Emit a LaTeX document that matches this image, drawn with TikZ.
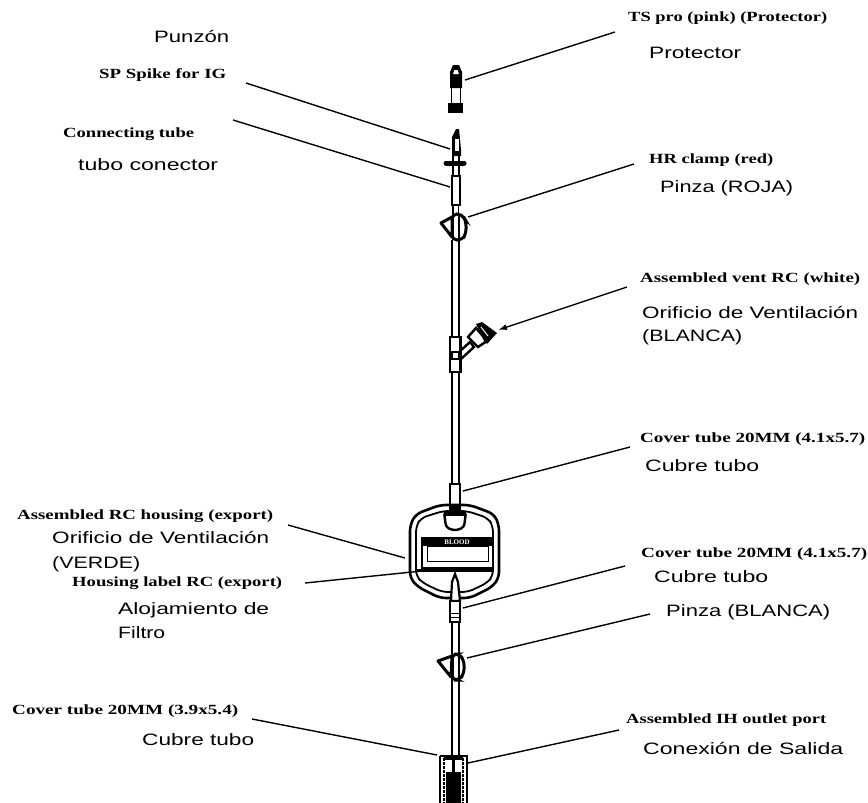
\documentclass[tikz,border=0pt]{standalone}
\usepackage{graphicx}
\usepackage{fontspec}
\usetikzlibrary{arrows.meta}
\setmainfont{Liberation Serif}
\newfontfamily\sanslab{Liberation Sans}
\newcommand\fitw[2]{\resizebox{#1pt}{\height}{#2}}
\tikzset{
 en/.style={inner sep=0pt,anchor=base west,font=\fontsize{14}{15}\selectfont\bfseries},
 es/.style={inner sep=0pt,anchor=base west,font=\fontsize{16.5}{18}\sanslab},
 leader/.style={line width=1.4pt,black},
 part/.style={line width=2pt,draw=black,fill=white},
 tubeline/.style={line width=2pt,black}
}
\begin{document}
\begin{tikzpicture}[x=1pt,y=-1pt]
\useasboundingbox (0,0) rectangle (868,803);
% labels (x of left edge, y of baseline)
\node[es] (punzon) at (154,42) {\fitw{75}{Punzón}};
\node[en] (tspro) at (628,21) {\fitw{199}{TS pro (pink) (Protector)}};
\node[es] (protector) at (649,59) {\fitw{92}{Protector}};
\node[en] (spike) at (99,78) {\fitw{127}{SP Spike for IG}};
\node[en] (conn) at (63,137) {\fitw{131}{Connecting tube}};
\node[es] (conector) at (78,170) {\fitw{140}{tubo conector}};
\node[en] (hr) at (649,163) {\fitw{124}{HR clamp (red)}};
\node[es] (roja) at (660,192) {\fitw{133}{Pinza (ROJA)}};
\node[en] (vent) at (640,282) {\fitw{220}{Assembled vent RC (white)}};
\node[es] (orif) at (642,318) {\fitw{216}{Orificio de Ventilación}};
\node[es] (blc) at (642,341) {\fitw{100}{(BLANCA)}};
\node[en] (cov1) at (640,442) {\fitw{225}{Cover tube 20MM (4.1x5.7)}};
\node[es] (cub1) at (645,471) {\fitw{114}{Cubre tubo}};
\node[en] (rch) at (17,519) {\fitw{256}{Assembled RC housing (export)}};
\node[es] (orif2) at (52,543) {\fitw{217}{Orificio de Ventilación}};
\node[es] (verde) at (52,568) {\fitw{88}{(VERDE)}};
\node[en] (hlabel) at (72,586) {\fitw{210}{Housing label RC (export)}};
\node[es] (aloj) at (118,614) {\fitw{151}{Alojamiento de}};
\node[es] (filtro) at (118,638) {\fitw{47}{Filtro}};
\node[en] (cov2) at (641,557) {\fitw{226}{Cover tube 20MM (4.1x5.7)}};
\node[es] (cub2) at (654,582) {\fitw{114}{Cubre tubo}};
\node[es] (blanca) at (666,616) {\fitw{164}{Pinza (BLANCA)}};
\node[en] (cov3) at (12,714) {\fitw{226}{Cover tube 20MM (3.9x5.4)}};
\node[es] (cub3) at (142,745) {\fitw{112}{Cubre tubo}};
\node[en] (ih) at (626,723) {\fitw{200}{Assembled IH outlet port}};
\node[es] (salida) at (643,754) {\fitw{200}{Conexión de Salida}};
% tube
\draw[tubeline] (452,240) -- (452,484) (458.5,240) -- (458.5,484);
\draw[tubeline] (452,622) -- (452,756) (459,622) -- (459,756);
% protector
\fill (453,65) -- (459,65) -- (462,72) -- (462,88) -- (450,88) -- (450,72) -- cycle;
\fill[white] (454.5,70) -- (457.5,70) -- (459,74) -- (453,74) -- cycle;
\draw[line width=1.6pt] (451.5,88) -- (451.5,104) (460.5,88) -- (460.5,104);
\fill (448,103) rectangle (463,113);
\coordinate (pProt) at (465,80);
% spike
\fill (456,129) -- (459,129) -- (460,139) -- (461,150) -- (461,156) -- (452,156) -- (452,137) -- cycle;
\fill[white] (454.5,139) rectangle (458.5,151);
\draw[line width=1.8pt] (453,156) -- (453,176) (459,156) -- (459,176);
\draw[line width=5pt,line cap=round] (446,163) -- (464,163);
\draw[part] (452,176) rectangle (460,205);
\draw[line width=1.8pt] (453,205) -- (453,215) (458.5,205) -- (458.5,215);
\coordinate (pSpike) at (450,149);
\coordinate (pConn) at (450,187);
% clamp 1
\draw[line width=3pt,fill=white,rounded corners=5pt] (452,214) -- (462,214) -- (466,221) -- (466,234) -- (462,240) -- (452,240) -- cycle;
\draw[line width=3pt,line join=round,fill=white] (452,217) -- (441,223) -- (452,237) -- cycle;
\draw[line width=2pt] (453,214) -- (453,240) (458.5,214) -- (458.5,240);
\coordinate (pClamp) at (468,217);
% vent
\draw[line width=2.4pt,fill=white] (459,352) -- (470,342) -- (474,347) -- (461,359) -- cycle;
\draw[line width=2.4pt,fill=white] (468,337) -- (476,328) -- (487,341) -- (478,347) -- cycle;
\fill (476,324) -- (482,322) -- (497,333) -- (487,344) -- (484,341) -- cycle;
\draw[white,line width=1pt] (481,327) -- (488,336);
\draw[line width=2.4pt,fill=white] (450,337) rectangle (460.5,372);
\fill (450,351) rectangle (460.5,360);
\fill[white] (452,340) rectangle (458,349);
\fill[white] (453,353) rectangle (458,358);
\coordinate (pVent) at (498,330);
% cover 1
\draw[part] (450,484) rectangle (460,506);
\coordinate (pCov1) at (463,491);
% housing
\draw[line width=2.6pt,rounded corners=6pt] (410,525) -- (416,514) -- (440,505) -- (470,505) -- (494,514) -- (499,525) -- (499,578) -- (492,587) -- (470,598) -- (440,598) -- (418,587) -- (410,578) -- cycle;
\draw[line width=1.8pt,rounded corners=6pt] (416,526) -- (421,518) -- (443,511) -- (467,511) -- (488,518) -- (493,526) -- (493,576) -- (487,583) -- (468,592) -- (442,592) -- (423,583) -- (416,576) -- cycle;
\fill (449,505) rectangle (461,512);
\draw[line width=2.4pt,fill=white,rounded corners=3pt] (444,512) -- (466,512) -- (464,527) -- (458,530) -- (452,530) -- (446,527) -- cycle;
\fill (444,511) rectangle (466,516);
\draw[line width=2pt,fill=white] (422,538) rectangle (493,568);
\fill (422,538) rectangle (493,546);
\draw[line width=1pt] (427,546) rectangle (488,561);
\node[inner sep=0pt,text=white,font=\fontsize{7}{7}\selectfont\bfseries] (hname) at (457,542) {BLOOD};
\fill (416,569) rectangle (494,572);
\draw[line width=2.2pt,fill=white] (451,601) -- (452,582) -- (455,574) -- (458,582) -- (460,601) -- cycle;
\coordinate (pRC) at (405,558);
\coordinate (pHL) at (422,571);
% cover 2
\draw[part] (450,601) rectangle (460,622);
\draw[line width=1pt] (450,613) -- (460,613) (450,617) -- (460,617);
\coordinate (pCov2) at (463,608);
% clamp 2
\draw[line width=3pt,fill=white,rounded corners=5pt] (452,654) -- (459,654) -- (464,660) -- (464,674) -- (459,680) -- (452,680) -- cycle;
\draw[line width=3pt,line join=round,fill=white] (452,656) -- (438,661) -- (451,677) -- cycle;
\draw[line width=2pt] (453,654) -- (453,680) (459,654) -- (459,680);
\coordinate (pClamp2) at (467,658);
% port
\draw[line width=2.4pt,fill=white] (440,756) -- (467,756) -- (467,803);
\draw[line width=2.4pt] (440,756) -- (440,803);
\draw[line width=1.2pt,dash pattern=on 3pt off 1pt] (444,758) -- (444,803) (463,758) -- (463,803);
\fill (446,772) rectangle (461,803);
\fill (444,756) rectangle (463,760);
\fill (452,760) rectangle (455,772);
\coordinate (pCovL) at (437,755);
\coordinate (pPort) at (468,763);
% leaders
\coordinate (tsEnd) at (615,32);
\coordinate (spEnd) at (246,83);
\coordinate (connEnd) at (233,120);
\coordinate (hrEnd) at (634,164);
\coordinate (ventEnd) at (627,287);
\coordinate (cov1End) at (630,447);
\coordinate (rcEnd) at (288,525);
\coordinate (hlEnd) at (305,583);
\coordinate (cov2End) at (625,566);
\coordinate (blEnd) at (650,614);
\coordinate (covLEnd) at (252,719);
\coordinate (portEnd) at (619,730);
\draw[leader] (tsEnd) -- (pProt);
\draw[leader] (spEnd) -- (pSpike);
\draw[leader] (connEnd) -- (pConn);
\draw[leader] (hrEnd) -- (pClamp);
\draw[leader,-{Latex[length=9pt,width=6pt]}] (ventEnd) -- (pVent);
\draw[leader] (cov1End) -- (pCov1);
\draw[leader] (rcEnd) -- (pRC);
\draw[leader] (hlEnd) -- (pHL);
\draw[leader] (cov2End) -- (pCov2);
\draw[leader] (blEnd) -- (pClamp2);
\draw[leader] (covLEnd) -- (pCovL);
\draw[leader] (portEnd) -- (pPort);
\end{tikzpicture}
\end{document}
